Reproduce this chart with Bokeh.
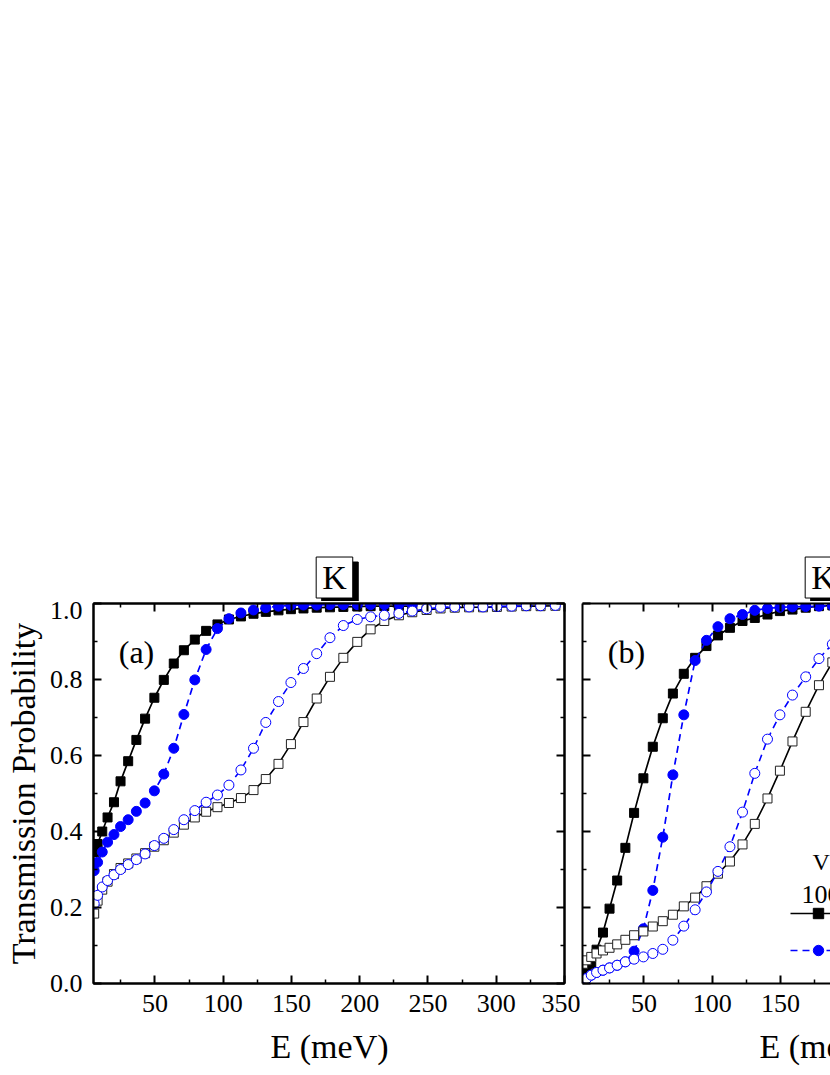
import math
from bokeh.plotting import figure
from bokeh.layouts import row, column
from bokeh.models import (FixedTicker, LinearAxis, Range1d, Label, Legend,
                          LegendItem, NumeralTickFormatter, Title)
from bokeh.embed import file_html
from bokeh.resources import INLINE

# ---------------- data ----------------
energy = [5.5, 8.0, 11.4, 15.3, 20.0, 24.8, 30.4, 36.4, 42.8, 49.6, 56.5,
          63.8, 71.2, 79.2, 87.5, 95.8, 104.2, 113.0, 122.2, 131.2, 140.5,
          149.6, 158.8, 168.5, 178.2, 188.0, 198.2, 208.0, 218.0, 228.7,
          238.5, 249.0, 259.2, 269.6, 280.1, 290.3, 300.5, 311.3, 322.0,
          332.5, 343.3]

# panel (a)
a_sq_filled = [0.346, 0.367, 0.400, 0.437, 0.477, 0.532, 0.585, 0.641, 0.697,
               0.752, 0.799, 0.842, 0.877, 0.905, 0.928, 0.945, 0.958, 0.966,
               0.973, 0.978, 0.982, 0.985, 0.987, 0.989, 0.990, 0.991, 0.992,
               0.993, 0.993, 0.993, 0.993]
a_ci_filled = [0.297, 0.319, 0.346, 0.372, 0.392, 0.413, 0.431, 0.453, 0.475,
               0.507, 0.551, 0.619, 0.708, 0.799, 0.879, 0.934, 0.960, 0.975,
               0.983, 0.989, 0.993, 0.995, 0.996, 0.996, 0.997, 0.997, 0.997,
               0.997, 0.997, 0.997, 0.997]
a_sq_open = [0.184, 0.218, 0.247, 0.268, 0.288, 0.304, 0.316, 0.329, 0.343,
             0.360, 0.377, 0.397, 0.418, 0.437, 0.452, 0.464, 0.475, 0.488,
             0.509, 0.538, 0.578, 0.630, 0.688, 0.750, 0.807, 0.857, 0.899,
             0.932, 0.954, 0.969, 0.977, 0.983, 0.987, 0.989, 0.990, 0.990,
             0.991, 0.992, 0.993, 0.993, 0.994]
a_ci_open = [0.210, 0.232, 0.254, 0.271, 0.286, 0.300, 0.313, 0.326, 0.341,
             0.363, 0.382, 0.405, 0.431, 0.455, 0.477, 0.496, 0.522, 0.562,
             0.619, 0.687, 0.742, 0.792, 0.829, 0.868, 0.910, 0.942, 0.958,
             0.965, 0.969, 0.974, 0.980, 0.986, 0.990, 0.991, 0.991, 0.991,
             0.992, 0.993, 0.994, 0.994, 0.995]

# panel (b)
b_sq_filled = [0.028, 0.0375, 0.052, 0.089, 0.134, 0.197, 0.271, 0.357, 0.449,
               0.540, 0.623, 0.698, 0.763, 0.815, 0.857, 0.888, 0.916, 0.936,
               0.954, 0.962, 0.971, 0.980, 0.984, 0.989, 0.993, 0.995, 0.996,
               0.997, 0.997, 0.998, 0.998]
b_ci_filled = [0.006, 0.013, 0.022, 0.029, 0.035, 0.041, 0.048, 0.057, 0.085,
               0.144, 0.245, 0.385, 0.549, 0.707, 0.850, 0.903, 0.939, 0.960,
               0.971, 0.982, 0.987, 0.990, 0.991, 0.992, 0.993, 0.994, 0.995,
               0.996, 0.996, 0.997, 0.997]
b_sq_open = [0.052, 0.061, 0.070, 0.079, 0.087, 0.094, 0.103, 0.115, 0.127,
             0.137, 0.150, 0.164, 0.181, 0.203, 0.226, 0.256, 0.289, 0.321,
             0.366, 0.420, 0.487, 0.560, 0.637, 0.715, 0.785, 0.845]
b_ci_open = [0.006, 0.013, 0.022, 0.029, 0.035, 0.041, 0.048, 0.057, 0.064,
             0.070, 0.079, 0.090, 0.114, 0.151, 0.194, 0.241, 0.295, 0.360,
             0.451, 0.553, 0.643, 0.707, 0.759, 0.807, 0.855, 0.893]

x_major = [50, 100, 150, 200, 250, 300, 350]
x_minor = [25, 75, 125, 175, 225, 275, 325]
y_major = [0.0, 0.2, 0.4, 0.6, 0.8, 1.0]
y_minor = [0.1, 0.3, 0.5, 0.7, 0.9]

x_label = "E (meV)"
y_label = "Transmission Probability"
panel_tags = ["(a)", "(b)"]
valley = "K"
legend_head = ["V", "100"]

FONT = "Liberation Serif"
BLUE = "#0000FF"

# layout constants (pixels)
STRIP_H = 601
PANEL_H = 474
FRAME_H = 382
PX_PER_Y = FRAME_H


def style_axis(ax, ticker, show_labels, standoff=0):
    ax.ticker = ticker
    ax.axis_line_width = 2
    ax.axis_line_color = "black"
    ax.major_tick_in = 8
    ax.major_tick_out = 0
    ax.minor_tick_in = 4
    ax.minor_tick_out = 0
    ax.major_tick_line_width = 2
    ax.minor_tick_line_width = 1.5
    ax.major_tick_line_color = "black"
    ax.minor_tick_line_color = "black"
    ax.major_label_text_font = FONT
    ax.major_label_standoff = standoff
    if show_labels:
        ax.major_label_text_font_size = "26px"
        ax.major_label_text_color = "black"
    else:
        ax.major_label_text_font_size = "1px"
        ax.major_label_text_color = None
    ax.axis_label = None


def make_panel(width, b_left, b_right, x_range, full_box, left_labels):
    p = figure(width=width, height=PANEL_H, x_range=x_range,
               y_range=Range1d(0, 1), output_backend="svg", title=None,
               toolbar_location=None, min_border_left=b_left,
               min_border_right=b_right, min_border_top=2,
               min_border_bottom=PANEL_H - 2 - FRAME_H, x_axis_location=None,
               y_axis_location=None)
    p.grid.visible = False
    p.background_fill_color = "white"
    p.border_fill_color = "white"
    p.outline_line_color = "black" if full_box else None
    p.outline_line_width = 2
    bottom = LinearAxis()
    style_axis(bottom, FixedTicker(ticks=x_major, minor_ticks=x_minor), True, 11)
    p.add_layout(bottom, "below")
    top = LinearAxis()
    style_axis(top, FixedTicker(ticks=x_major, minor_ticks=x_minor), False)
    p.add_layout(top, "above")
    left = LinearAxis(formatter=NumeralTickFormatter(format="0.0"))
    style_axis(left, FixedTicker(ticks=y_major, minor_ticks=y_minor),
               left_labels, 11 if left_labels else 0)
    if left_labels:
        left.axis_label = y_label
        left.axis_label_text_font = FONT
        left.axis_label_text_font_size = "34px"
        left.axis_label_text_font_style = "normal"
        left.axis_label_text_color = "black"
        left.axis_label_standoff = 5
    p.add_layout(left, "left")
    if full_box:
        right = LinearAxis()
        style_axis(right, FixedTicker(ticks=y_major, minor_ticks=y_minor), False)
        p.add_layout(right, "right")
    p.add_layout(Title(text=x_label, align="left", offset=177,
                       text_font=FONT, text_font_size="34px",
                       text_font_style="normal", text_color="black",
                       standoff=22), "below")
    return p


def make_strip(width, b_left, b_right, x_range):
    # empty band above a panel that carries the valley box
    s = figure(width=width, height=STRIP_H, x_range=x_range,
               y_range=Range1d(1 + 2 / PX_PER_Y, 1 + (STRIP_H + 2) / PX_PER_Y),
               output_backend="svg", title=None, toolbar_location=None,
               min_border_left=b_left, min_border_right=b_right,
               min_border_top=0, min_border_bottom=0,
               x_axis_location=None, y_axis_location=None)
    s.grid.visible = False
    s.outline_line_color = None
    s.background_fill_color = "white"
    s.border_fill_color = "white"
    s.add_layout(Label(x=181.5, y=1.068, text=valley, x_offset=5.5,
                       y_offset=-5, text_align="center",
                       text_baseline="middle", text_font=FONT,
                       text_font_size="34px", text_color="black",
                       background_fill_color="black",
                       border_line_color="black", padding=(6, 2)))
    s.add_layout(Label(x=181.5, y=1.068, text=valley, text_align="center",
                       text_baseline="middle", text_font=FONT,
                       text_font_size="34px", text_color="black",
                       background_fill_color="white",
                       border_line_color="black", border_line_width=1,
                       padding=(6, 2)))
    return s


def draw_series(p, sq_f, ci_f, sq_o, ci_o):
    r = {}
    r["lf"] = p.line(energy[:len(sq_f)], sq_f, line_color="black", line_width=1.7)
    r["sf"] = p.scatter(energy[:len(sq_f)], sq_f, marker="square", size=9,
                        fill_color="black", line_color="black")
    r["lc"] = p.line(energy[:len(ci_f)], ci_f, line_color=BLUE, line_width=1.7,
                     line_dash="7 5")
    r["sc"] = p.scatter(energy[:len(ci_f)], ci_f, marker="circle", size=10,
                        fill_color=BLUE, line_color=BLUE)
    p.line(energy[:len(sq_o)], sq_o, line_color="black", line_width=1.6)
    p.scatter(energy[:len(sq_o)], sq_o, marker="square", size=9,
              fill_color="white", line_color="#222222", line_width=1)
    p.line(energy[:len(ci_o)], ci_o, line_color=BLUE, line_width=1.6,
           line_dash="7 5")
    p.scatter(energy[:len(ci_o)], ci_o, marker="circle", size=10,
              fill_color="white", line_color=BLUE, line_width=1)
    return r


def tag(p, text):
    p.add_layout(Label(x=23.5, y=0.872, text=text, text_align="left",
                       text_baseline="alphabetic", text_font=FONT,
                       text_font_size="32px", text_color="black"))


xr_a = Range1d(5, 350)
xr_b = Range1d(5, 5 + 248 / (471 / 345))

pa = make_panel(580, 93, 16, xr_a, True, True)
draw_series(pa, a_sq_filled, a_ci_filled, a_sq_open, a_ci_open)
tag(pa, panel_tags[0])

pb = make_panel(250, 2, 0, xr_b, False, False)
rb = draw_series(pb, b_sq_filled, b_ci_filled, b_sq_open, b_ci_open)
tag(pb, panel_tags[1])
leg = Legend(items=[LegendItem(label=" ", renderers=[rb["lf"], rb["sf"]]),
                    LegendItem(label="  ", renderers=[rb["lc"], rb["sc"]])],
             location=(208, 20), orientation="vertical", glyph_width=56,
             glyph_height=26, label_height=26, spacing=11, padding=0,
             margin=0, border_line_color=None, background_fill_alpha=0,
             label_text_font=FONT, label_text_font_size="24px")
pb.add_layout(leg)
pb.add_layout(Label(x=173.5, y=0.319, text=legend_head[0], text_align="left",
                    text_baseline="alphabetic", text_font=FONT,
                    text_font_size="24px", text_color="black"))
pb.add_layout(Label(x=165.4, y=0.233, text=legend_head[1], text_align="left",
                    text_baseline="alphabetic", text_font=FONT,
                    text_font_size="26px", text_color="black"))

sa = make_strip(580, 93, 16, xr_a)
sb = make_strip(250, 2, 0, xr_b)

layout = column(row(sa, sb), row(pa, pb))
open("out.html", "w").write(file_html(layout, INLINE))
